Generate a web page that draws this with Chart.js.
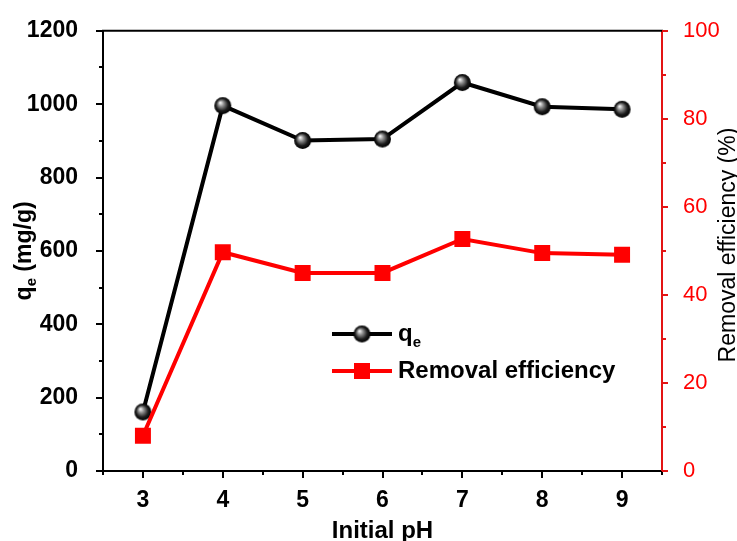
<!DOCTYPE html>
<html>
<head>
<meta charset="utf-8">
<script src="https://cdn.jsdelivr.net/npm/chart.js@4.4.1/dist/chart.umd.min.js"></script>
<style>
  html, body { margin: 0; padding: 0; background: #fff; }
  #myChart { display: block; }
</style>
</head>
<body>
<canvas id="myChart" width="737" height="541"></canvas>
<script>
// data
var phValues = [3, 4, 5, 6, 7, 8, 9];
var qeValues = [161, 996, 901, 905, 1059, 993, 986];
var removalValues = [8.0, 49.7, 45.0, 45.0, 52.7, 49.5, 49.1];

// tick labels
var xTicks = [3, 4, 5, 6, 7, 8, 9];
var qeTicks = [0, 200, 400, 600, 800, 1000, 1200];
var removalTicks = [0, 20, 40, 60, 80, 100];

var RED = '#ff0000';
var AXIS_RED = '#e31414';
var FONT = '"Liberation Sans", Arial, sans-serif';

// shaded ball used as q_e marker
function makeBall(r) {
    var c = document.createElement('canvas');
    c.width = c.height = 2 * r + 2;
    var g = c.getContext('2d');
    var cx = r + 1, cy = r + 1;
    var grad = g.createRadialGradient(cx - r * 0.3, cy - r * 0.35, 0.5, cx, cy, r);
    grad.addColorStop(0, '#f2f2f2');
    grad.addColorStop(0.3, '#8c8c8c');
    grad.addColorStop(0.7, '#1c1c1c');
    grad.addColorStop(1, '#000');
    g.fillStyle = grad;
    g.beginPath();
    g.arc(cx, cy, r, 0, Math.PI * 2);
    g.fill();
    return c;
}
var ball = makeBall(8.5);

function toPoints(xs, ys) {
    var out = [];
    for (var i = 0; i < xs.length; i++) out.push({x: xs[i], y: ys[i]});
    return out;
}

function setTicks(list) {
    return function (scale) {
        scale.ticks = list.map(function (v) { return {value: v}; });
    };
}

function plain(v) { return String(v); }

// minor/major tick marks, frame top, titles and legend
var decor = {
    id: 'decor',
    afterDraw: function (chart) {
        var ctx = chart.ctx, a = chart.chartArea;
        var sx = chart.scales.x, sy = chart.scales.y, sr = chart.scales.y1;
        var i, p;
        ctx.save();
        ctx.lineCap = 'butt';

        // top frame
        ctx.strokeStyle = '#000';
        ctx.lineWidth = 2;
        ctx.beginPath();
        ctx.moveTo(a.left - 1, a.top);
        ctx.lineTo(a.right + 1, a.top);
        ctx.stroke();

        // x ticks
        for (i = 2.5; i <= 9.5; i += 0.5) {
            p = Math.round(sx.getPixelForValue(i));
            var len = (i % 1 === 0) ? 7 : 4;
            ctx.beginPath();
            ctx.moveTo(p, a.bottom);
            ctx.lineTo(p, a.bottom + len);
            ctx.stroke();
        }
        // left ticks
        for (i = 0; i <= 1200; i += 100) {
            p = Math.round(sy.getPixelForValue(i));
            var l2 = (i % 200 === 0) ? 7 : 4;
            ctx.beginPath();
            ctx.moveTo(a.left, p);
            ctx.lineTo(a.left - l2, p);
            ctx.stroke();
        }
        // right ticks
        ctx.strokeStyle = AXIS_RED;
        for (i = 0; i <= 100; i += 10) {
            p = Math.round(sr.getPixelForValue(i));
            var l3 = (i % 20 === 0) ? 6 : 4;
            ctx.beginPath();
            ctx.moveTo(a.right, p);
            ctx.lineTo(a.right + l3, p);
            ctx.stroke();
        }

        ctx.fillStyle = '#000';
        ctx.textBaseline = 'alphabetic';

        // left title: q_e (mg/g)
        ctx.save();
        ctx.translate(31, (a.top + a.bottom) / 2);
        ctx.rotate(-Math.PI / 2);
        var big = 'bold 23px ' + FONT, small = 'bold 15px ' + FONT;
        ctx.font = big;
        var wq = ctx.measureText('q').width;
        var wr = ctx.measureText(' (mg/g)').width;
        ctx.font = small;
        var we = ctx.measureText('e').width;
        var x0 = -(wq + we + wr) / 2;
        ctx.textAlign = 'left';
        ctx.font = big;
        ctx.fillText('q', x0, 0);
        ctx.font = small;
        ctx.fillText('e', x0 + wq, 5);
        ctx.font = big;
        ctx.fillText(' (mg/g)', x0 + wq + we, 0);
        ctx.restore();

        // right title
        ctx.save();
        ctx.translate(735, 245);
        ctx.rotate(-Math.PI / 2);
        ctx.textAlign = 'center';
        ctx.font = '23px ' + FONT;
        ctx.fillText('Removal efficiency (%)', 0, 0);
        ctx.restore();

        // x title
        ctx.textAlign = 'center';
        ctx.font = 'bold 24px ' + FONT;
        ctx.fillText('Initial pH', (a.left + a.right) / 2, 538);

        // legend
        ctx.textAlign = 'left';
        ctx.strokeStyle = '#000';
        ctx.lineWidth = 4;
        ctx.beginPath();
        ctx.moveTo(332, 334);
        ctx.lineTo(392, 334);
        ctx.stroke();
        ctx.drawImage(ball, 362 - ball.width / 2, 334 - ball.height / 2);
        ctx.font = 'bold 24px ' + FONT;
        ctx.fillText('q', 398, 341);
        var wq2 = ctx.measureText('q').width;
        ctx.font = 'bold 15px ' + FONT;
        ctx.fillText('e', 398 + wq2, 347);

        ctx.strokeStyle = RED;
        ctx.beginPath();
        ctx.moveTo(332, 371);
        ctx.lineTo(392, 371);
        ctx.stroke();
        ctx.fillStyle = RED;
        ctx.fillRect(354, 363, 16, 16);
        ctx.fillStyle = '#000';
        ctx.font = 'bold 24px ' + FONT;
        ctx.fillText('Removal efficiency', 398, 378);

        ctx.restore();
    }
};

var ctx = document.getElementById('myChart').getContext('2d');
var myChart = new Chart(ctx, {
    type: 'line',
    data: {
        datasets: [{
            label: 'qe',
            data: toPoints(phValues, qeValues),
            yAxisID: 'y',
            borderColor: '#000',
            borderWidth: 4,
            pointStyle: ball,
            pointRadius: 8.5,
            pointHoverRadius: 8.5,
            tension: 0,
            order: 1
        }, {
            label: 'Removal efficiency',
            data: toPoints(phValues, removalValues),
            yAxisID: 'y1',
            borderColor: RED,
            backgroundColor: RED,
            borderWidth: 4,
            pointStyle: 'rect',
            pointRadius: 11.3,
            pointHoverRadius: 11.3,
            pointBorderWidth: 0,
            tension: 0,
            order: 0
        }]
    },
    options: {
        responsive: false,
        animation: false,
        devicePixelRatio: 1,
        layout: {padding: {top: 25, left: 0, right: 0, bottom: 0}},
        plugins: {
            legend: {display: false},
            tooltip: {enabled: false}
        },
        scales: {
            x: {
                type: 'linear',
                position: 'bottom',
                min: 2.5,
                max: 9.5,
                afterBuildTicks: setTicks(xTicks),
                afterFit: function (s) { s.height = 70; },
                grid: {display: false},
                border: {display: true, color: '#000', width: 2},
                ticks: {
                    color: '#000',
                    padding: 8,
                    callback: plain,
                    font: {family: FONT, size: 23, weight: 'bold'}
                }
            },
            y: {
                position: 'left',
                min: 0,
                max: 1200,
                afterBuildTicks: setTicks(qeTicks),
                afterFit: function (s) { s.width = 103; },
                grid: {display: false},
                border: {display: true, color: '#000', width: 2},
                ticks: {
                    color: '#000',
                    padding: 17,
                    callback: plain,
                    font: {family: FONT, size: 23, weight: 'bold'}
                }
            },
            y1: {
                position: 'right',
                min: 0,
                max: 100,
                afterBuildTicks: setTicks(removalTicks),
                afterFit: function (s) { s.width = 75; },
                grid: {display: false},
                border: {display: true, color: AXIS_RED, width: 2},
                ticks: {
                    color: RED,
                    padding: 13,
                    callback: plain,
                    font: {family: FONT, size: 22}
                }
            }
        }
    },
    plugins: [decor]
});
</script>
</body>
</html>
